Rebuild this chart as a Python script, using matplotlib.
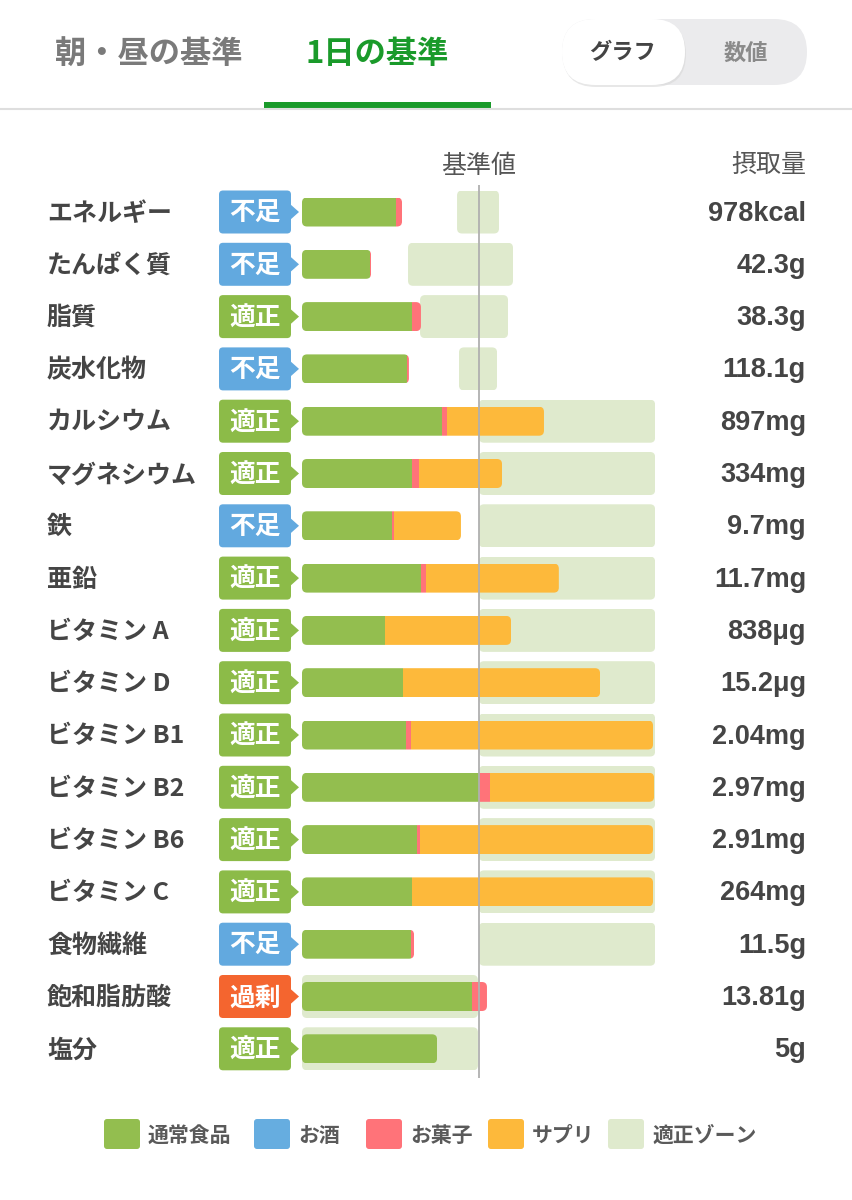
import matplotlib.pyplot as plt
import numpy as np
from matplotlib.patches import FancyBboxPatch, Polygon, Rectangle

plt.rcParams['font.family'] = ['Noto Sans CJK JP', 'DejaVu Sans']

# data: amounts as % of the daily reference value (100 = 基準値)
nutrients = ['エネルギー', 'たんぱく質', '脂質', '炭水化物', 'カルシウム', 'マグネシウム', '鉄', '亜鉛',
             'ビタミン A', 'ビタミン D', 'ビタミン B1', 'ビタミン B2', 'ビタミン B6', 'ビタミン C',
             '食物繊維', '飽和脂肪酸', '塩分']
status = ['不足', '不足', '適正', '不足', '適正', '適正', '不足', '適正', '適正', '適正',
          '適正', '適正', '適正', '適正', '不足', '過剰', '適正']
intake = ['978kcal', '42.3g', '38.3g', '118.1g', '897mg', '334mg', '9.7mg', '11.7mg', '838μg',
          '15.2μg', '2.04mg', '2.97mg', '2.91mg', '264mg', '11.5g', '13.81g', '5g']
food = [53.1, 38.2, 62.1, 59.3, 79.1, 62.1, 50.8, 67.2, 46.9, 57.1, 58.8, 100.0, 65.0, 62.1, 61.6, 96.0, 76.3]
alcohol = [0] * 17
sweets = [3.4, 0.8, 5.1, 1.1, 2.8, 4.0, 1.1, 2.8, 0, 0, 2.8, 6.2, 1.7, 0, 1.7, 8.5, 0]
supplement = [0, 0, 0, 0, 54.8, 46.9, 37.9, 75.1, 71.2, 111.3, 136.7, 92.7, 131.6, 136.2, 0, 0, 0]
zone_low = [87.6, 59.9, 66.7, 88.7] + [100] * 11 + [0, 0]
zone_high = [111.3, 119.2, 116.4, 110.2] + [199.5] * 11 + [99.4, 99.4]

series_names = ['通常食品', 'お酒', 'お菓子', 'サプリ']
series_colors = ['#93be4f', '#66ade0', '#ff7379', '#fdb93b']
zone_color = '#dfeacd'
badge_colors = {'不足': '#62a9df', '適正': '#8cbb48', '過剰': '#f4652f'}

# layout: 302px = 0%, 479px = 100%; rows every 52.3px from 212px
XS = 1.77
Y0, DY = 212, 52.3
def px(x):
    return (x - 302) / XS
def py(y):
    return (y - Y0) / DY

fig = plt.figure(figsize=(8.52, 12), dpi=100)
ax = fig.add_axes([0, 0, 1, 1])
ax.set_xlim(px(0), px(852))
ax.set_ylim(py(1200), py(0))
ax.axis('off')

asp = XS / DY
def rounded(x, y, w, h, r, **kw):
    return FancyBboxPatch((x, y), w, h, boxstyle=f'round,pad=0,rounding_size={r / XS}',
                          mutation_aspect=asp, transform=ax.transData, **kw)

rows = np.arange(len(nutrients))
bar_h = 29 / DY
zone_h = 43 / DY
dt = 0.03  # small text nudge

# zones
zw = np.array(zone_high) - np.array(zone_low)
zbars = ax.barh(rows, zw, left=zone_low, height=zone_h, color=zone_color, zorder=1)
for b in zbars:
    b.set_clip_path(rounded(b.get_x(), b.get_y(), b.get_width(), b.get_height(), 5))

# stacked bars
left = np.zeros(len(rows))
containers = []
for vals, col in zip([food, alcohol, sweets, supplement], series_colors):
    bc = ax.barh(rows, vals, left=left, height=bar_h, color=col, zorder=2, linewidth=0)
    containers.append(bc)
    left = left + np.array(vals)
for i, total in enumerate(left):
    clip = rounded(0, i - bar_h / 2, total, bar_h, 5)
    for bc in containers:
        bc[i].set_clip_path(clip)

# reference line
ax.vlines(100, py(185), py(1078), color='#b0b0b0', lw=1.3, zorder=3)

# row labels, badges, values
for i in rows:
    ax.text(px(47), i + dt, nutrients[i], ha='left', va='center', fontsize=18,
            fontweight='bold', color='#454545',
            family=['Noto Sans CJK JP', 'DejaVu Sans'])
    ax.text(px(806), i + dt, intake[i], ha='right', va='center', fontsize=19.5,
            fontweight='bold', color='#454545',
            family=['Liberation Sans', 'Noto Sans CJK JP'])
    c = badge_colors[status[i]]
    ax.add_patch(rounded(px(219), i - zone_h / 2, 72 / XS, zone_h, 4, color=c, lw=0, zorder=2))
    ax.add_patch(Polygon([[px(290), i - 8 / DY], [px(299), i], [px(290), i + 8 / DY]],
                         closed=True, color=c, lw=0, zorder=2))
    ax.text(px(255), i + dt, status[i], ha='center', va='center', fontsize=18.5,
            fontweight='bold', color='white', zorder=4)

# column headers
ax.text(100, py(166), '基準値', ha='center', va='center', fontsize=18, color='#555555')
ax.text(px(806), py(166), '摂取量', ha='right', va='center', fontsize=18, color='#555555')

# tabs
ax.text(px(149), py(54), '朝・昼の基準', ha='center', va='center', fontsize=22.5,
        fontweight='bold', color='#7a7a7a')
ax.text(px(377), py(54), '1日の基準', ha='center', va='center', fontsize=22.5,
        fontweight='bold', color='#1a9a2a')
ax.add_patch(Rectangle((px(264), py(102)), 227 / XS, 6 / DY, color='#1a9a2a', lw=0))
ax.plot([px(0), px(852)], [py(109), py(109)], color='#dedede', lw=1.5)

# toggle
ax.add_patch(rounded(px(562), py(19), 245 / XS, 66 / DY, 33, color='#ebebed', lw=0))
ax.add_patch(rounded(px(563), py(21), 123 / XS, 66 / DY, 33, color='#d8d8d8', lw=0, alpha=0.6))
ax.add_patch(rounded(px(562), py(19), 123 / XS, 66 / DY, 33, color='white', lw=0))
ax.text(px(623), py(53), 'グラフ', ha='center', va='center', fontsize=16,
        fontweight='bold', color='#444444')
ax.text(px(746), py(53), '数値', ha='center', va='center', fontsize=16,
        fontweight='bold', color='#8a8a8a')

# legend
legend_x = [104, 254, 366, 488, 608]
for name, col, lx in zip(series_names + ['適正ゾーン'], series_colors + [zone_color], legend_x):
    ax.add_patch(rounded(px(lx), py(1119), 36 / XS, 30 / DY, 3, color=col, lw=0))
    ax.text(px(lx + 44), py(1135), name, ha='left', va='center', fontsize=15,
            fontweight='bold', color='#5a5a5a')

fig.savefig('out.png', dpi=100)
